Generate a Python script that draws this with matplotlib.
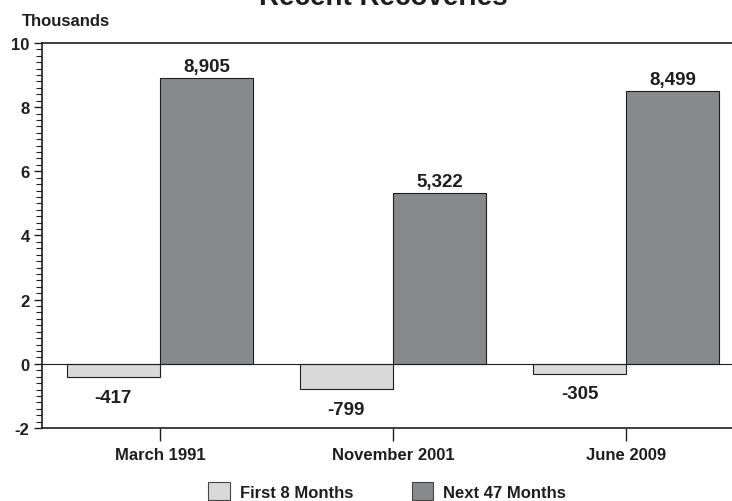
import matplotlib.pyplot as plt
import numpy as np
from matplotlib.ticker import MultipleLocator
from matplotlib.patches import Patch

# data (thousands of jobs)
categories = ['March 1991', 'November 2001', 'June 2009']
first_8 = [-417, -799, -305]
next_47 = [8905, 5322, 8499]
series_names = ['First 8 Months', 'Next 47 Months']
colors = ['#d9d9d9', '#88898b']

plt.rcParams['font.family'] = ['Liberation Sans', 'DejaVu Sans']
plt.rcParams['font.weight'] = 'bold'
ink = '#1e1e1e'

fig = plt.figure(figsize=(7.32, 5.02), dpi=100)
ax = fig.add_axes([0.0574, 0.1454, 0.959, 0.767])

x = np.arange(len(categories))
w = 0.4
b1 = ax.bar(x - w/2, np.array(first_8)/1000, w, color=colors[0], edgecolor=ink, linewidth=0.8)
b2 = ax.bar(x + w/2, np.array(next_47)/1000, w, color=colors[1], edgecolor=ink, linewidth=0.8)
ax.axhline(0, color=ink, linewidth=0.8, zorder=3)

# value labels
for bars, vals in [(b1, first_8), (b2, next_47)]:
    for r, v in zip(bars, vals):
        cx = r.get_x() + r.get_width()/2
        if v >= 0:
            ax.text(cx, v/1000 + 0.1, f'{v:,}', ha='center', va='bottom', fontsize=13.5, fontweight='bold', color=ink)
        else:
            ax.text(cx, v/1000 - 0.36, f'{v:,}', ha='center', va='top', fontsize=13.5, fontweight='bold', color=ink)

ax.set_xlim(-0.506, 2.506)
ax.set_xticks(x)
ax.set_xticklabels(categories, fontsize=12, fontweight='bold')
ax.yaxis.set_major_locator(MultipleLocator(2))
ax.yaxis.set_minor_locator(MultipleLocator(0.2))
ax.set_ylim(-2, 10)
ax.set_yticks(np.arange(-2, 11, 2))
ax.set_yticklabels([str(t) for t in range(-2, 11, 2)], fontsize=12, fontweight='bold')
ax.tick_params(axis='y', which='major', length=6, width=1, color=ink, pad=3, labelcolor=ink)
ax.tick_params(axis='y', which='minor', length=4, width=0.8, color=ink)
ax.tick_params(axis='x', which='major', length=9, width=1, color=ink, pad=5, labelcolor=ink)
for s in ['left', 'top', 'bottom']:
    ax.spines[s].set_linewidth(1.2)
    ax.spines[s].set_color(ink)
ax.spines['right'].set_visible(False)

fig.text(22/732, 1 - 26/502, 'Thousands', fontsize=12, fontweight='bold', ha='left', va='baseline', color=ink)
fig.text(383/732, 1 - 5/502, 'Recent Recoveries', fontsize=20, fontweight='bold', ha='center', va='baseline', color=ink)

handles = [Patch(facecolor=c, edgecolor='#444444', linewidth=0.8) for c in colors]
fig.legend(handles, series_names, loc='lower center', bbox_to_anchor=(0.529, -0.028), ncol=2, frameon=False,
           fontsize=12, handlelength=1.3, handleheight=1.3, columnspacing=3.5, handletextpad=0.6,
           labelcolor=ink)

fig.savefig('out.png', dpi=100)
